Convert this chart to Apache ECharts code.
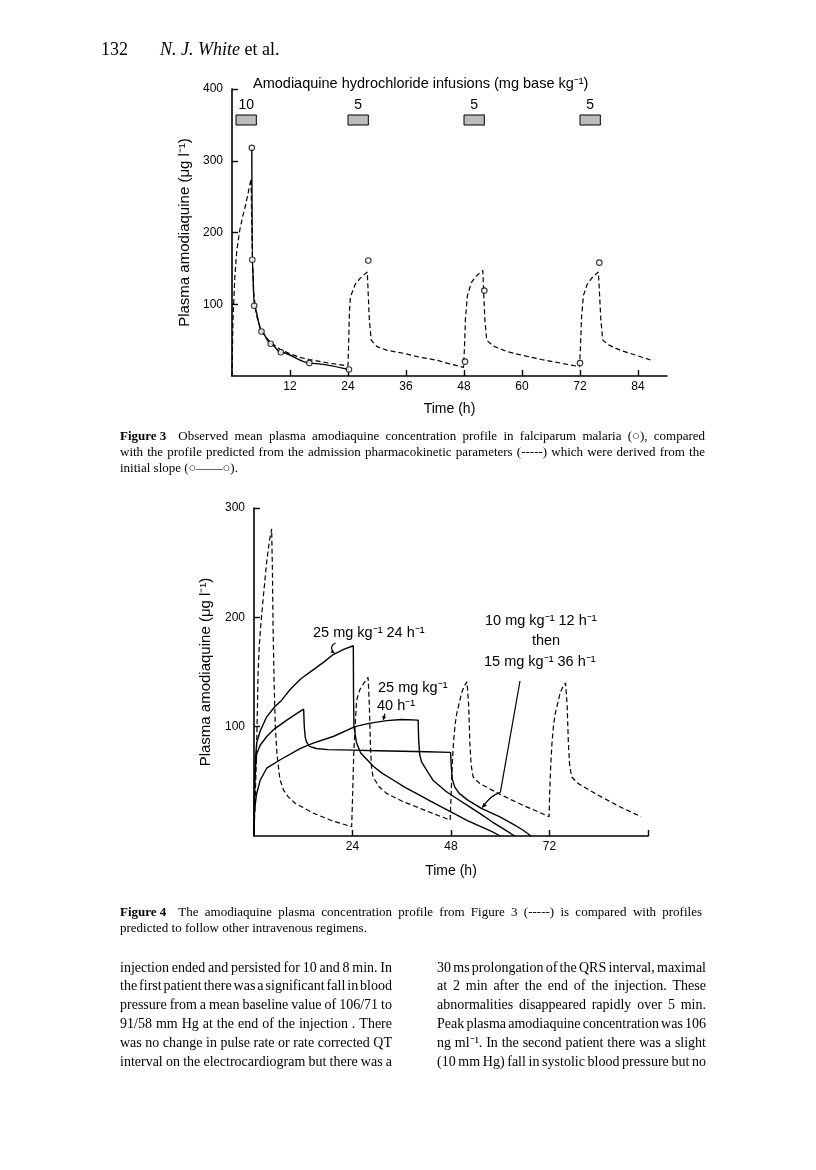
<!DOCTYPE html>
<html><head><meta charset="utf-8">
<script src="https://cdn.jsdelivr.net/npm/echarts@6/dist/echarts.min.js"></script>
<style>html,body{margin:0;padding:0;background:#fff}#c{width:816px;height:1170px}</style>
</head><body><div id="c"></div>
<script>
// ---------- DATA ----------
const fig3XTicks = [12, 24, 36, 48, 60, 72, 84];
const fig3YTicks = [100, 200, 300, 400];
const fig4XTicks = [24, 48, 72, 96];
const fig4XLabels = [24, 48, 72];
const fig4YTicks = [100, 200, 300];

const infusionStart = [0, 24, 48, 72];
const infusionEnd = [4, 28, 52, 76];
const infusionDose = ['10', '5', '5', '5'];

// observed mean concentrations (h, µg/l)
const observed = [[4.1,318],[4.2,162],[4.6,98],[6.1,62],[8.0,45],[10.1,33],[16.0,18],[24.2,9],
  [28.2,161],[48.2,20],[52.2,119],[72.0,18],[76.0,158]];
const initialSlopeCount = 8;

// predicted profile, figure 3 (dashed)
const predicted3 = [[0,0],[0.2,78],[0.6,140],[1.0,175],[1.6,203],[2.2,222],[2.8,238],[3.4,257],[3.95,275],
  [4.05,225],[4.2,165],[4.5,115],[5.0,86],[6.0,64],[7.0,54],[8.0,47],[10,37],[12,31],[14,26],[16,23],[20,18],[24,14],
  [24.15,50],[24.3,90],[24.5,110],[25.5,128],[26.5,136],[27.5,142],[28.0,145],
  [28.15,120],[28.4,80],[28.8,50],[30,41],[32,36],[35.5,31.6],[39,26],[42.4,22],[45,17],[47.9,12],
  [48.1,40],[48.3,80],[48.7,112],[49.5,130],[50.5,139],[51.3,144],[51.9,147],
  [52.05,120],[52.3,80],[52.7,50],[54,42],[56.9,34],[60,29],[64,23],[68,18],[71.9,13],
  [72.1,40],[72.3,80],[72.7,112],[73.5,128],[74.5,137],[75.3,142],[75.8,145],
  [76.0,120],[76.3,80],[76.7,50],[78,43],[80.3,36],[84,28],[87.2,21]];

// figure 4: same profile (dashed)
const predicted4 = [[0,0],[0.5,60],[0.8,110],[1.0,150],[1.3,175],[1.7,195],[2.3,220],[3.1,251],[3.8,271],[4.3,281],
  [4.5,240],[4.65,190],[4.9,140],[5.2,100],[5.6,75],[6.3,52],[7.2,42],[8.3,36],[10,30],[12,26],[14.4,21],[19,14],[23.8,8.5],
  [24.05,40],[24.3,75],[24.6,97],[25.0,124],[25.8,134],[26.8,140],[27.8,145],
  [28.1,120],[28.35,85],[28.6,64],[29.0,54],[30.5,45],[32.3,39],[36,32],[40,26],[44,20],[47.8,14.6],
  [48.05,40],[48.3,65],[48.6,85],[49.0,102],[49.4,112],[50.6,131],[51.2,137],[51.9,141],
  [52.3,120],[52.6,85],[52.9,65],[53.4,54],[55,48],[60,38],[65,29],[71.9,17.7],
  [72.05,40],[72.3,65],[72.6,85],[73.0,102],[73.4,112],[74.6,131],[75.2,136],[75.9,140],
  [76.3,120],[76.6,85],[76.9,65],[77.4,54],[79,48],[84,37],[89,27],[94.3,17.7]];

// 25 mg/kg over 24 h
const regimen24h = [[0,0],[0.15,50],[0.35,70],[0.65,85],[1.5,96],[3.1,109],[5,118],[6.7,124],[8.8,134],[11.5,144],
  [14.4,152],[17,159],[19.3,166],[22,171],[24.2,174],
  [24.25,130],[24.35,100],[25,85],[26,76],[27.5,70],[29,64],[31,58],[34,51],[37,44],[40,38],[43,32],[46,26],
  [49,20],[52,14],[55,9],[58,4],[60,0]];
// 10 mg/kg over 12 h then 15 mg/kg over 36 h
const regimen12h36h = [[0,0],[0.15,45],[0.35,62],[0.65,75],[1.5,83],[3.1,91],[5,98],[8,106],[10,111],[12.1,116],
  [12.25,100],[12.5,90],[12.8,86],[13.5,82],[15.2,80],[18,79],[24,78.5],[30,78],[36,77.5],[42,77],[47.9,76.5],
  [48.05,65],[48.3,52],[48.9,45],[50,39],[52,33],[55.4,25.3],[59.8,17.7],[63,11],[65.5,5.5],[67.5,0]];
// 25 mg/kg over 40 h
const regimen40h = [[0,0],[0.1,20],[0.25,27],[0.6,38],[1.5,51],[3.1,62],[6.3,69.5],[11.2,80],[14.4,85],[19.3,91],
  [24.6,100],[28,103],[32.3,105.5],[36,106.5],[40,106],
  [40.1,90],[40.35,75],[40.8,68],[42.1,60],[43.6,51],[46.9,40.5],[49.3,34.5],[52,28],[55,20.7],[58,13],[61,6],[63.5,0]];

// ---------- TEXT ----------
const headerPage = '132';
const headerAuthorItalic = 'N. J. White';
const headerAuthorRoman = ' et al.';
const fig3Title = 'Amodiaquine hydrochloride infusions (mg base kg\u207B\u00B9)';
const yName = 'Plasma amodiaquine (\u03BCg l\u207B\u00B9)';
const xName = 'Time (h)';
const cap3 = [
  {lead:'Figure 3', text:'Observed mean plasma amodiaquine concentration profile in falciparum malaria (\u25CB), compared', justify:true},
  {text:'with the profile predicted from the admission pharmacokinetic parameters (-----) which were derived from the', justify:true},
  {text:'initial slope (\u25CB\u2014\u2014\u25CB).', justify:false}];
const cap4 = [
  {lead:'Figure 4', text:'The amodiaquine plasma concentration profile from Figure 3 (-----) is compared with profiles', justify:true},
  {text:'predicted to follow other intravenous regimens.', justify:false}];
const bodyLeft = [
  'injection ended and persisted for 10 and 8 min. In',
  'the first patient there was a significant fall in blood',
  'pressure from a mean baseline value of 106/71 to',
  '91/58 mm Hg at the end of the injection . There',
  'was no change in pulse rate or rate corrected QT',
  'interval on the electrocardiogram but there was a'];
const bodyRight = [
  '30 ms prolongation of the QRS interval, maximal',
  'at 2 min after the end of the injection. These',
  'abnormalities disappeared rapidly over 5 min.',
  'Peak plasma amodiaquine concentration was 106',
  'ng ml\u207B\u00B9. In the second patient there was a slight',
  '(10 mm Hg) fall in systolic blood pressure but no'];
const ann24 = '25 mg kg\u207B\u00B9 24 h\u207B\u00B9';
const ann12a = '10 mg kg\u207B\u00B9 12 h\u207B\u00B9';
const ann12b = 'then';
const ann12c = '15 mg kg\u207B\u00B9 36 h\u207B\u00B9';
const ann40a = '25 mg kg\u207B\u00B9';
const ann40b = '40 h\u207B\u00B9';

// ---------- CHART ----------
const SANS = '"Liberation Sans", Arial, Helvetica, sans-serif';
const SERIF = '"Liberation Serif", "Times New Roman", serif';
const chart = echarts.init(document.getElementById('c'), null, {renderer:'canvas', width:816, height:1170});

function xAxisCfg(grid, max, ticks, labels, gap) {
  return {gridIndex:grid, type:'value', min:0, max:max,
    axisLine:{show:true, onZero:false, lineStyle:{color:'#000', width:1.6}},
    axisTick:{show:true, inside:true, length:6, customValues:ticks, lineStyle:{color:'#000', width:1.4}},
    axisLabel:{show:true, customValues:labels, color:'#000', fontSize:12, fontFamily:SANS, margin:5},
    splitLine:{show:false},
    name:xName, nameLocation:'middle', nameGap:gap,
    nameTextStyle:{color:'#000', fontSize:14, fontFamily:SANS}};
}
function yAxisCfg(grid, max, ticks, gap) {
  return {gridIndex:grid, type:'value', min:0, max:max,
    axisLine:{show:true, onZero:false, lineStyle:{color:'#000', width:1.6}},
    axisTick:{show:true, inside:true, length:6, customValues:ticks, lineStyle:{color:'#000', width:1.4}},
    axisLabel:{show:true, customValues:ticks, color:'#000', fontSize:12, fontFamily:SANS, margin:9},
    splitLine:{show:false},
    name:yName, nameLocation:'middle', nameGap:gap, nameRotate:90,
    nameTextStyle:{color:'#000', fontSize:15, fontFamily:SANS}};
}
const dashed = {color:'#000', width:1.2, type:[5,3]};
const solid = {color:'#000', width:1.4};

const option = {
  animation:false,
  backgroundColor:'#fff',
  grid:[
    {left:232, top:89, width:435, height:287, outerBoundsMode:'none', containLabel:false},
    {left:254, top:508, width:394, height:328, outerBoundsMode:'none', containLabel:false}
  ],
  xAxis:[ xAxisCfg(0, 90, fig3XTicks, fig3XTicks, 26), xAxisCfg(1, 96, fig4XTicks, fig4XLabels, 28) ],
  yAxis:[ yAxisCfg(0, 400, fig3YTicks, 36), yAxisCfg(1, 300, fig4YTicks, 41) ],
  series:[
    {type:'custom', xAxisIndex:0, yAxisIndex:0, clip:false, silent:true, z:3,
      data: infusionStart.map((s,i)=>[s, infusionEnd[i]]),
      encode:{x:[0,1]},
      renderItem: function(params, api){
        const x0 = api.coord([api.value(0), 400])[0];
        const x1 = api.coord([api.value(1), 400])[0];
        const top = api.coord([0, 400])[1];
        const bx = Math.max(x0, api.coord([0,0])[0] + 4);
        return {type:'group', children:[
          {type:'rect', shape:{x:bx, y:top+26, width:x1 - x0 + 1, height:10},
            style:{fill:'#bdbdbd', stroke:'#000', lineWidth:1}},
          {type:'text', style:{text:infusionDose[params.dataIndex], x:bx + (x1 - x0 + 1)/2, y:top+16,
            align:'center', verticalAlign:'middle', fontSize:14, fontFamily:SANS, fill:'#000'}}
        ]};
      }},
    {type:'line', xAxisIndex:0, yAxisIndex:0, data:predicted3, symbol:'none', lineStyle:dashed, z:2},
    {type:'line', xAxisIndex:0, yAxisIndex:0, data:observed.slice(0, initialSlopeCount), symbol:'none',
      smooth:0.3, smoothMonotone:'x', lineStyle:solid, z:2},
    {type:'scatter', xAxisIndex:0, yAxisIndex:0, data:observed, symbol:'circle', symbolSize:5.5,
      itemStyle:{color:'#fff', borderColor:'#000', borderWidth:1.1}, z:5},
    {type:'line', xAxisIndex:1, yAxisIndex:1, data:predicted4, symbol:'none', lineStyle:dashed, z:2},
    {type:'line', xAxisIndex:1, yAxisIndex:1, data:regimen24h, symbol:'none', lineStyle:solid, z:3},
    {type:'line', xAxisIndex:1, yAxisIndex:1, data:regimen12h36h, symbol:'none', lineStyle:solid, z:3},
    {type:'line', xAxisIndex:1, yAxisIndex:1, data:regimen40h, symbol:'none', lineStyle:solid, z:3}
  ]
};
chart.setOption(option);

// ---------- TEXT LAYOUT ----------
const mctx = document.createElement('canvas').getContext('2d');
function fstr(f){ return (f.style||'normal') + ' ' + (f.weight||'normal') + ' ' + f.size + 'px ' + f.family; }
function measure(t, f){ mctx.font = fstr(f); return mctx.measureText(t).width; }
function textEl(t, x, y, f, sx, align){
  return {type:'text', x:x, y:y, scaleX:sx||1, z:10, silent:true,
    style:{text:t, fontSize:f.size, fontFamily:f.family, fontWeight:f.weight||'normal', fontStyle:f.style||'normal',
      fill:'#000', align:align||'left', verticalAlign:'middle'}};
}
function layoutLine(str, x0, width, y, f, justify, lead, leadFont){
  const els = [];
  let x = x0, avail = width;
  if (lead) {
    const lw = measure(lead, leadFont);
    els.push(textEl(lead, x, y, leadFont));
    x += lw + 12; avail = width - lw - 12;
  }
  const words = str.split(' ');
  const ws = words.map(w => measure(w, f));
  const sp = measure(' ', f);
  const sum = ws.reduce((a,b)=>a+b, 0);
  let gap = sp, sc = 1;
  if (justify && words.length > 1) gap = (avail - sum) / (words.length - 1);
  if (gap < sp * 0.55) { sc = avail / (sum + sp * 0.6 * (words.length - 1)); gap = sp * 0.6 * sc; }
  words.forEach((w,i) => { els.push(textEl(w, x, y, f, sc)); x += ws[i]*sc + gap; });
  return els;
}

const els = [];
const hdr = {size:18, family:SERIF};
const hdrI = {size:18, family:SERIF, style:'italic'};
els.push(textEl(headerPage, 101, 50, hdr));
els.push(textEl(headerAuthorItalic, 160, 50, hdrI));
els.push(textEl(headerAuthorRoman, 160 + measure(headerAuthorItalic, hdrI), 50, hdr));

const ann = {size:14.5, family:SANS};
els.push(textEl(fig3Title, 253, 84, ann));
els.push(textEl(ann24, 313, 633, ann));
els.push(textEl(ann12a, 485, 621, ann));
els.push(textEl(ann12b, 546, 641, ann, 1, 'center'));
els.push(textEl(ann12c, 484, 662, ann));
els.push(textEl(ann40a, 378, 688, ann));
els.push(textEl(ann40b, 377, 706, ann));

const capF = {size:13, family:SERIF};
const capB = {size:13, family:SERIF, weight:'bold'};
cap3.forEach((l,i) => els.push(...layoutLine(l.text, 120, 585, 437 + i*16, capF, l.justify, l.lead, capB)));
cap4.forEach((l,i) => els.push(...layoutLine(l.text, 120, 582, 913 + i*16, capF, l.justify, l.lead, capB)));

const bodyF = {size:14, family:SERIF};
bodyLeft.forEach((t,i) => els.push(...layoutLine(t, 120, 272, 968 + i*18.8, bodyF, true)));
bodyRight.forEach((t,i) => els.push(...layoutLine(t, 437, 269, 968 + i*18.8, bodyF, true)));

// ---------- LEADERS (anchored to curves) ----------
function px(seriesIndex, pt){ return chart.convertToPixel({seriesIndex:seriesIndex}, pt); }
function arrowHead(tip, from, len, half){
  const dx = tip[0]-from[0], dy = tip[1]-from[1], d = Math.hypot(dx,dy) || 1;
  const ux = dx/d, uy = dy/d, bx = tip[0]-ux*len, by = tip[1]-uy*len;
  return {type:'polygon', z:10, silent:true, shape:{points:[tip,[bx-uy*half, by+ux*half],[bx+uy*half, by-ux*half]]}, style:{fill:'#000'}};
}
const lineSty = {stroke:'#000', lineWidth:1.2, fill:null};
const tA = px(5, [19.6, 166.5]);
els.push({type:'bezierCurve', z:10, silent:true, shape:{x1:tA[0]+1, y1:tA[1]-11, cpx1:tA[0]-5, cpy1:tA[1]-8, cpx2:tA[0]-3, cpy2:tA[1]-3, x2:tA[0], y2:tA[1]-1}, style:lineSty});
els.push(arrowHead([tA[0], tA[1]-1], [tA[0]-3, tA[1]-3], 3.5, 1.8));
const tC = px(7, [31.5, 105.5]);
els.push({type:'line', z:10, silent:true, shape:{x1:tC[0]+1.5, y1:tC[1]-7, x2:tC[0], y2:tC[1]-1}, style:lineSty});
els.push(arrowHead([tC[0], tC[1]-0.5], [tC[0]+1.5, tC[1]-7], 4, 2));
const tB = px(6, [55.4, 25.3]);
const mid = [tB[0]+19, tB[1]-16];
els.push({type:'line', z:10, silent:true, shape:{x1:520, y1:681, x2:mid[0], y2:mid[1]}, style:lineSty});
els.push({type:'bezierCurve', z:10, silent:true, shape:{x1:mid[0], y1:mid[1], cpx1:mid[0]-10, cpy1:mid[1]+3, x2:tB[0]+1, y2:tB[1]-1}, style:lineSty});
els.push(arrowHead([tB[0]+0.5, tB[1]-0.5], [mid[0]-8, mid[1]+4], 5, 2.2));

chart.setOption({graphic:{elements:els}});
</script></body></html>
